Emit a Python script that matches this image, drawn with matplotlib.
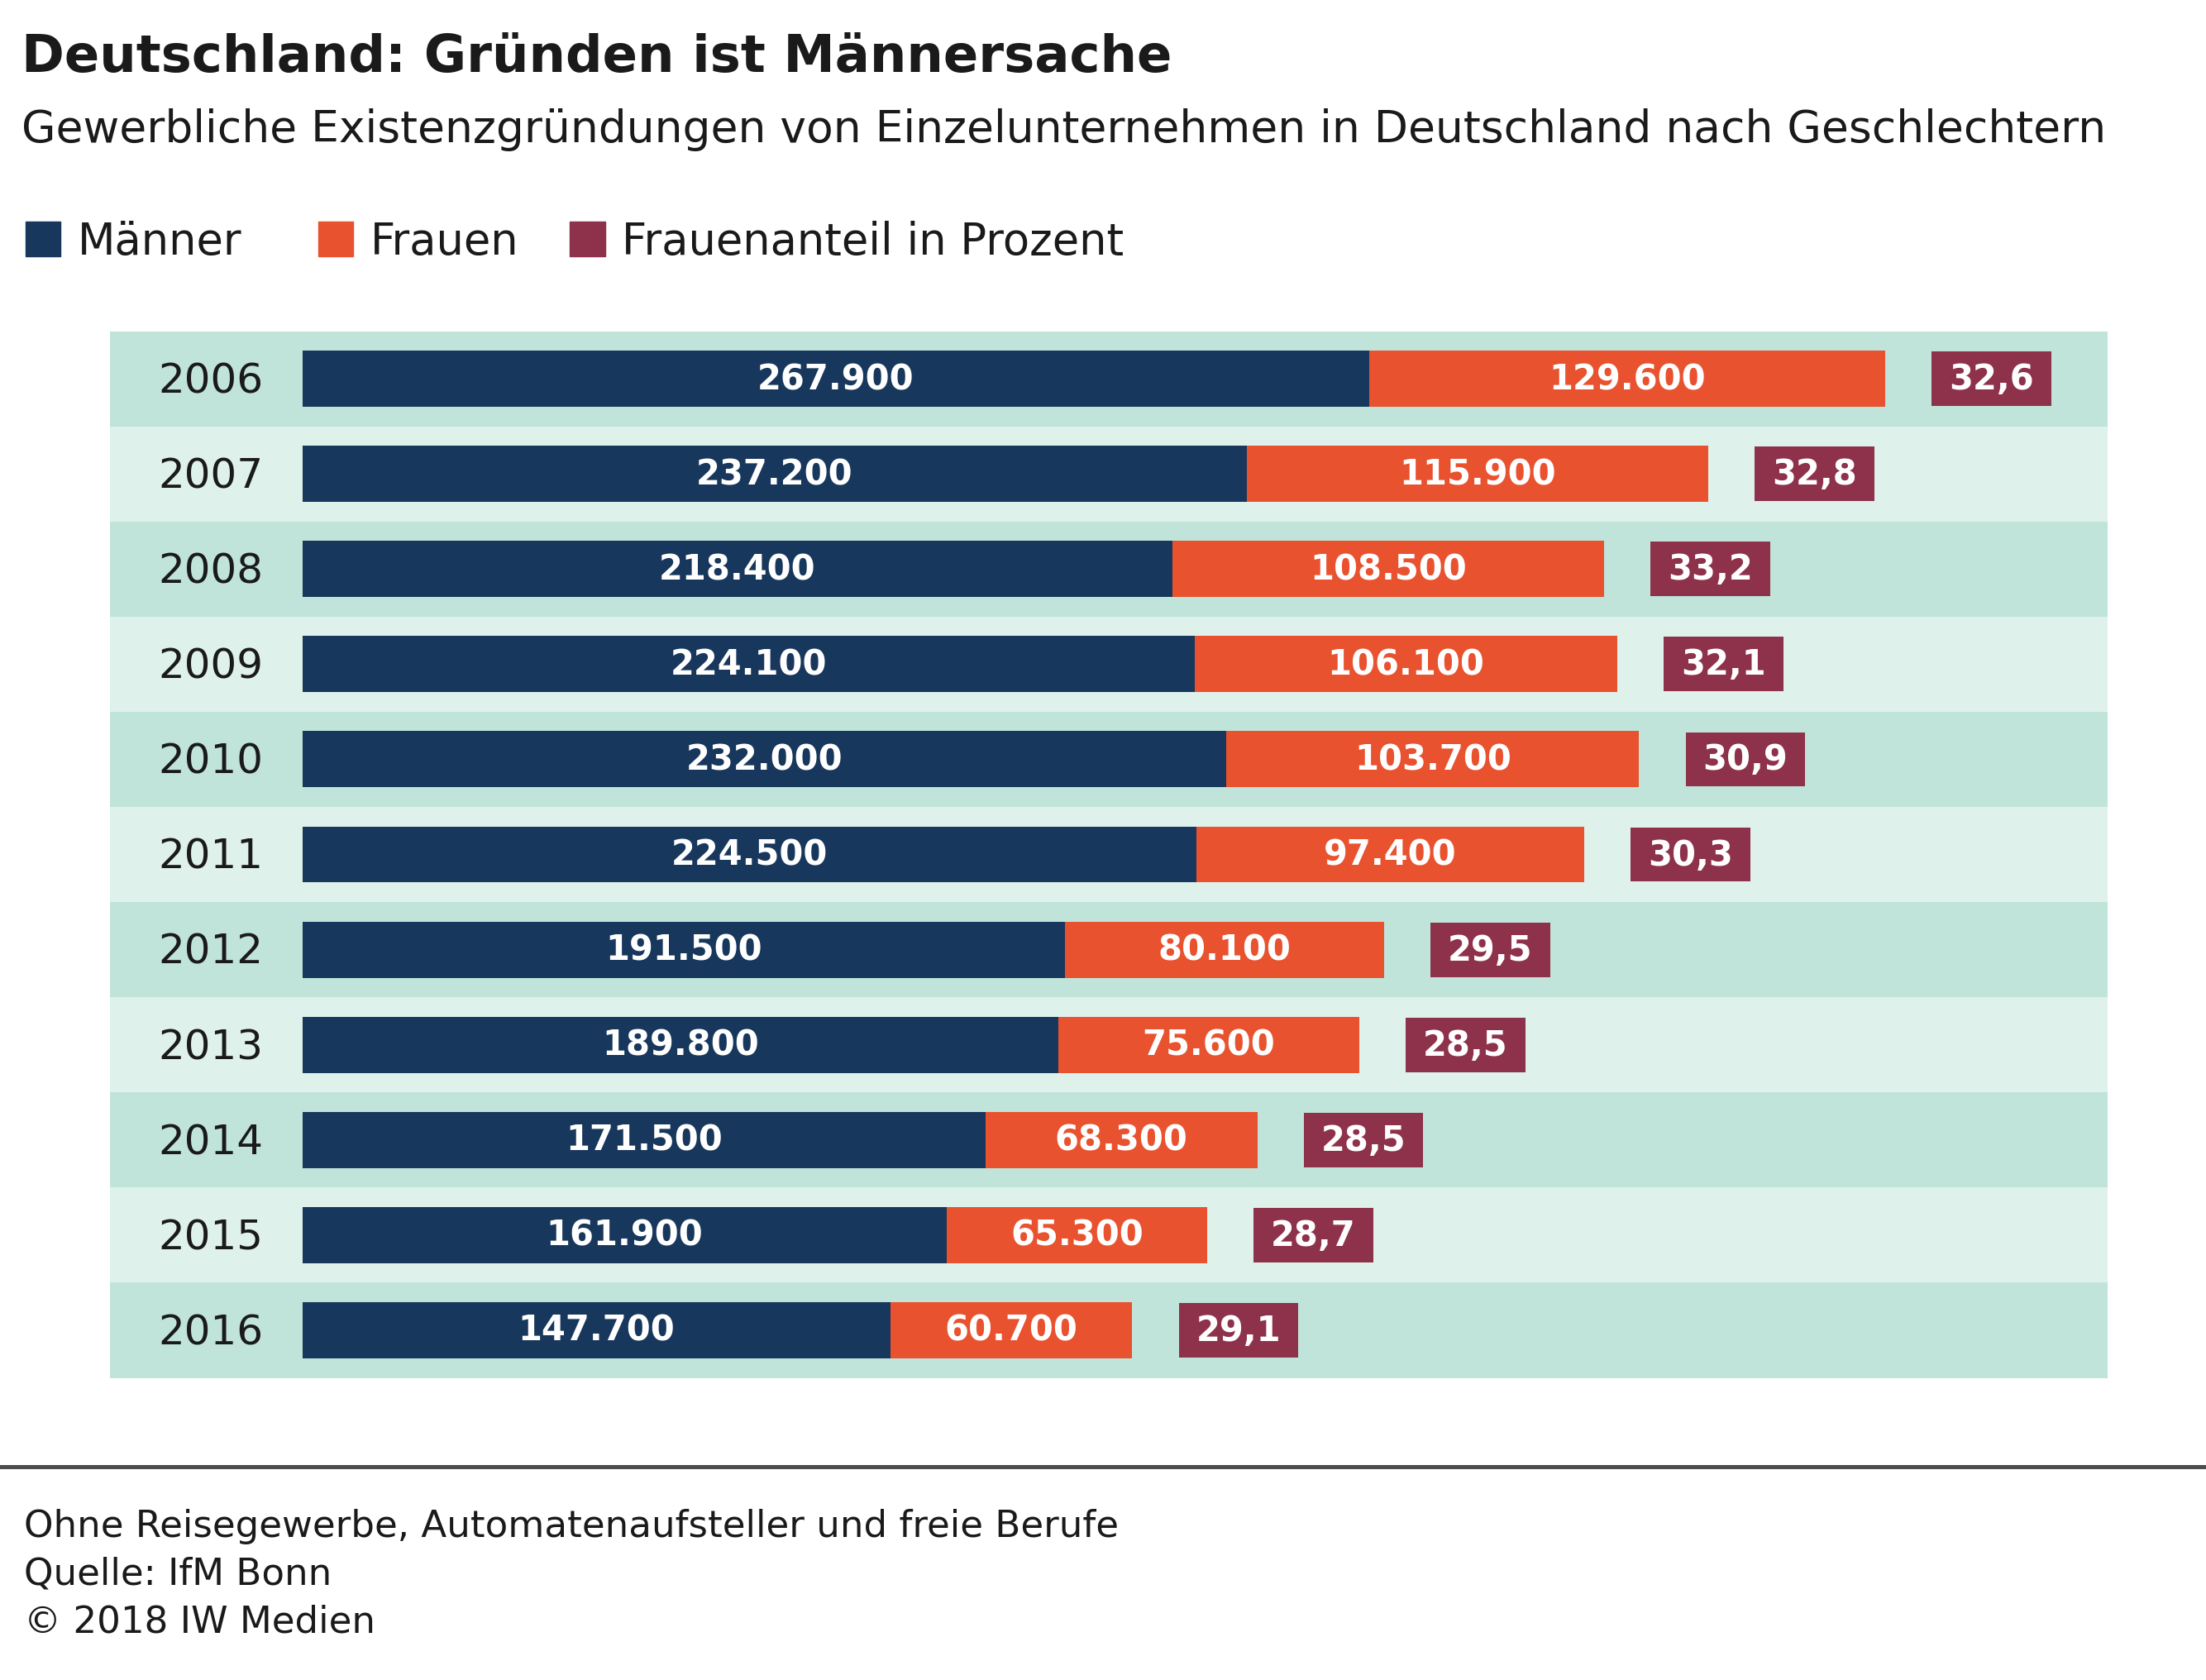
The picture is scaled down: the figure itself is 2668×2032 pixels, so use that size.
import numpy as np
import matplotlib
matplotlib.use('Agg')
import matplotlib.pyplot as plt
from matplotlib.patches import Rectangle

# data
years = ['2006', '2007', '2008', '2009', '2010', '2011', '2012', '2013', '2014', '2015', '2016']
maenner = [267900, 237200, 218400, 224100, 232000, 224500, 191500, 189800, 171500, 161900, 147700]
frauen = [129600, 115900, 108500, 106100, 103700, 97400, 80100, 75600, 68300, 65300, 60700]
anteil = [32.6, 32.8, 33.2, 32.1, 30.9, 30.3, 29.5, 28.5, 28.5, 28.7, 29.1]

c_men = '#18375c'
c_women = '#e9522f'
c_share = '#8e324b'
c_band1 = '#c0e4d9'
c_band2 = '#dff1eb'
c_text = '#1a1a1a'

plt.rcParams['font.family'] = ['DejaVu Sans']

W, H = 1568.0, 1194.8          # reference layout units
def fx(d): return d / W
def fy(d): return 1 - d / H

fig = plt.figure(figsize=(26.68, 20.33), dpi=100)
fig.patch.set_facecolor('white')

ax = fig.add_axes([fx(78), fy(980), fx(1498) - fx(78), fy(236) - fy(980)])
k = 1125 / 397500.0            # layout units per founding
ax.set_xlim(-137 / k, 1283 / k)
ax.set_ylim(len(years) - 0.5, -0.5)
ax.axis('off')

gap = 33 / k
box_w = 85 / k
bar_h = 0.59

def fmt(v):
    return '{:,}'.format(v).replace(',', '.')

for i, yr in enumerate(years):
    ax.axhspan(i - 0.5, i + 0.5, color=c_band1 if i % 2 == 0 else c_band2, lw=0, zorder=0)
    ax.text(-65 / k, i + 0.02, yr, ha='center', va='center', fontsize=36, color=c_text)

y = np.arange(len(years))
ax.barh(y, maenner, height=bar_h, color=c_men, zorder=2)
ax.barh(y, frauen, left=maenner, height=bar_h, color=c_women, zorder=2)
total = np.array(maenner) + np.array(frauen)
ax.barh(y, box_w, left=total + gap, height=bar_h * 0.97, color=c_share, zorder=2)

for i in range(len(years)):
    ax.text(maenner[i] / 2, i, fmt(maenner[i]), ha='center', va='center',
            fontsize=30, fontweight='bold', color='white', zorder=3)
    ax.text(maenner[i] + frauen[i] / 2, i, fmt(frauen[i]), ha='center', va='center',
            fontsize=30, fontweight='bold', color='white', zorder=3)
    ax.text(total[i] + gap + box_w / 2, i, ('%.1f' % anteil[i]).replace('.', ','),
            ha='center', va='center', fontsize=30, fontweight='bold', color='white', zorder=3)

# header
fig.text(fx(15), fy(41), 'Deutschland: Gründen ist Männersache', ha='left', va='center',
         fontsize=45, fontweight='bold', color=c_text)
fig.text(fx(15), fy(92), 'Gewerbliche Existenzgründungen von Einzelunternehmen in Deutschland nach Geschlechtern',
         ha='left', va='center', fontsize=38.5, color=c_text)

# legend
leg = [('Männer', c_men, 18), ('Frauen', c_women, 226), ('Frauenanteil in Prozent', c_share, 405)]
for name, col, x0 in leg:
    fig.patches.append(Rectangle((fx(x0), fy(183)), fx(25), 25 / H, color=col,
                                 transform=fig.transFigure, figure=fig))
    fig.text(fx(x0 + 37), fy(172), name, ha='left', va='center', fontsize=38, color=c_text)

# footer
fig.add_artist(plt.Line2D([0, 1], [fy(1043), fy(1043)], color='#4d4d4d', lw=3.6,
                          transform=fig.transFigure))
footer = ['Ohne Reisegewerbe, Automatenaufsteller und freie Berufe', 'Quelle: IfM Bonn', '© 2018 IW Medien']
for j, line in enumerate(footer):
    fig.text(fx(17), fy(1085 + 34 * j), line, ha='left', va='center', fontsize=32.5, color=c_text)

fig.savefig('out.png', dpi=100, facecolor='white')
